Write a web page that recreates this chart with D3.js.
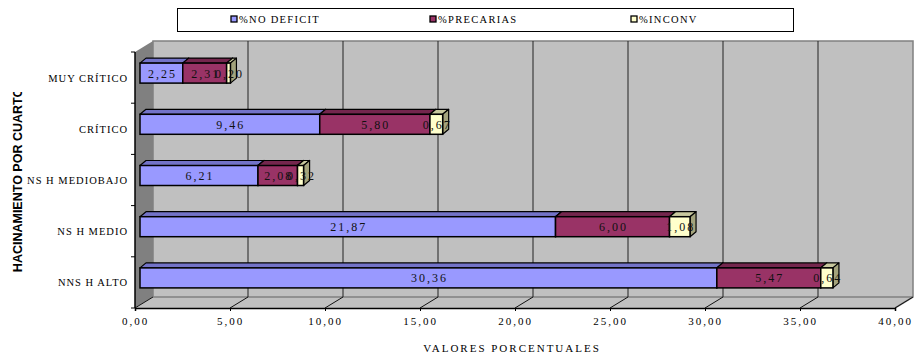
<!DOCTYPE html>
<html><head><meta charset="utf-8">
<script src="https://cdn.jsdelivr.net/npm/d3@7"></script>
<style>body{margin:0;background:#fff}svg{display:block}</style>
</head><body>
<svg id="c" width="914" height="354"></svg>
<script>
const categories = ["MUY CRÍTICO","CRÍTICO","NS H MEDIOBAJO","NS H MEDIO","NNS H ALTO"];
const seriesNames = ["%NO DEFICIT","%PRECARIAS","%INCONV"];
const noDeficit = [2.25, 9.46, 6.21, 21.87, 30.36];
const precarias = [2.31, 5.80, 2.08, 6.00, 5.47];
const inconv = [0.20, 0.67, 0.32, 1.08, 0.64];
const tickValues = [0,5,10,15,20,25,30,35,40];
const xTitle = "VALORES PORCENTUALES";
const yTitle = "HACINAMIENTO POR CUARTO";

const fronts = ["#9999FF","#993366","#FFFFCC"];
const tops = ["#7373C8","#74264D","#C8C89E"];
const sides = ["#6666B0","#5E1F3F","#A3A37C"];

const svg = d3.select("#c");
const x = d3.scaleLinear().domain([0,40]).range([135,895]);
const y = d3.scaleBand().domain(categories).range([52,308]);
const DX = 18, DY = -11; // wall depth
const bdx = 5, bdy = -4.5; // bar front offset
const tdx = 6, tdy = -5;   // bar depth
const barH = 20;
const font = "'Liberation Serif', 'Times New Roman', serif";

svg.append("polygon").attr("points",[[135,52],[135+DX,52+DY],[135+DX,308+DY],[135,308]].join(" "))
  .attr("fill","#808080");
svg.append("rect").attr("x",135+DX).attr("y",52+DY).attr("width",x(40)-135).attr("height",256)
  .attr("fill","#C0C0C0");
svg.append("polygon").attr("points",[[135,308],[135+DX,308+DY],[x(40)+DX,308+DY],[x(40),308]].join(" "))
  .attr("fill","#C0C0C0");
svg.append("path").attr("d",`M${135+DX},${308+DY}V${52+DY}H${x(40)+DX}V${308+DY}L${x(40)},308`)
  .attr("fill","none").attr("stroke","#808080").attr("stroke-width",1.5);
svg.append("path").attr("d",`M${135+DX},${308+DY}H${x(40)+DX}`).attr("stroke","#808080").attr("stroke-width",1.5);
tickValues.filter(v=>v>0 && v<40).forEach(v=>{
  svg.append("line").attr("x1",x(v)+DX).attr("x2",x(v)+DX).attr("y1",52+DY).attr("y2",308+DY)
    .attr("stroke","#222").attr("stroke-width",1);
});
tickValues.forEach(v=>{
  svg.append("line").attr("x1",x(v)).attr("y1",308).attr("x2",x(v)+DX).attr("y2",308+DY)
    .attr("stroke","#111").attr("stroke-width",1);
});
const xAxis = d3.axisBottom(x).tickValues(tickValues).tickSize(3).tickPadding(6)
  .tickFormat(d=>d3.format(".2f")(d).replace(".",","));
const gx = svg.append("g").attr("transform","translate(0,308)").call(xAxis);
gx.select(".domain").attr("stroke","#000").attr("stroke-width",1.5);
gx.selectAll(".tick line").attr("stroke","#000");
gx.selectAll("text").attr("font-family",font).attr("font-size",11).attr("letter-spacing","2px").attr("fill","#000");
svg.append("line").attr("x1",135).attr("x2",135).attr("y1",52).attr("y2",308).attr("stroke","#000").attr("stroke-width",1.5);
const bounds = categories.map(c=>y(c)).concat([308]);
bounds.forEach(b=>svg.append("line").attr("x1",131).attr("x2",135).attr("y1",b).attr("y2",b).attr("stroke","#000"));
categories.forEach(c=>{
  svg.append("text").attr("x",128).attr("y",y(c)+y.bandwidth()/2+4).attr("text-anchor","end")
    .attr("font-family",font).attr("font-size",10.5).attr("letter-spacing","1px").text(c);
});

const series = [noDeficit, precarias, inconv];
categories.forEach((c,i)=>{
  let acc = 0;
  const yc = y(c)+y.bandwidth()/2 + bdy;
  const y0 = yc - barH/2, y1 = yc + barH/2;
  const g = svg.append("g");
  series.forEach((s,k)=>{
    const v = s[i];
    const xa = x(acc)+bdx, xb = x(acc+v)+bdx;
    g.append("polygon").attr("points",[[xa,y0],[xa+tdx,y0+tdy],[xb+tdx,y0+tdy],[xb,y0]].join(" "))
      .attr("fill",tops[k]).attr("stroke","#000").attr("stroke-width",1.2).attr("stroke-linejoin","round");
    g.append("polygon").attr("points",[[xb,y0],[xb+tdx,y0+tdy],[xb+tdx,y1+tdy],[xb,y1]].join(" "))
      .attr("fill",sides[k]).attr("stroke","#000").attr("stroke-width",1.2).attr("stroke-linejoin","round");
    g.append("rect").attr("x",xa).attr("y",y0).attr("width",xb-xa).attr("height",barH)
      .attr("fill",fronts[k]).attr("stroke","#000").attr("stroke-width",1.5);
    acc += v;
  });
  acc = 0;
  series.forEach((s,k)=>{
    const v = s[i];
    const xm = (x(acc)+x(acc+v))/2 + bdx;
    svg.append("text").attr("x",xm+1).attr("y",yc+4.5).attr("text-anchor","middle")
      .attr("font-family",font).attr("font-size",12).attr("letter-spacing","2px").attr("fill","#111")
      .text(d3.format(".2f")(v).replace(".",","));
    acc += v;
  });
});

svg.append("text").attr("x",512).attr("y",352).attr("text-anchor","middle")
  .attr("font-family",font).attr("font-size",11).attr("letter-spacing","2px").text(xTitle);
svg.append("clipPath").attr("id","yc").append("rect").attr("x",0).attr("y",92).attr("width",40).attr("height",230);
svg.append("g").attr("clip-path","url(#yc)").append("text")
  .attr("transform","translate(22,180) rotate(-90)").attr("text-anchor","middle")
  .attr("font-family","'Liberation Sans', Arial, sans-serif").attr("font-weight","bold").attr("font-size",12.5)
  .text(yTitle);

svg.append("rect").attr("x",177.5).attr("y",8.5).attr("width",616).attr("height",23)
  .attr("fill","#fff").attr("stroke","#000").attr("stroke-width",1);
const lx = [231, 430, 631];
seriesNames.forEach((n,k)=>{
  svg.append("rect").attr("x",lx[k]).attr("y",16).attr("width",6).attr("height",6)
    .attr("fill",fronts[k]).attr("stroke","#000").attr("stroke-width",1.3);
  svg.append("text").attr("x",lx[k]+8).attr("y",23).attr("font-family",font).attr("font-size",10.5)
    .attr("letter-spacing","1.3px").text(n);
});
</script>
</body></html>
